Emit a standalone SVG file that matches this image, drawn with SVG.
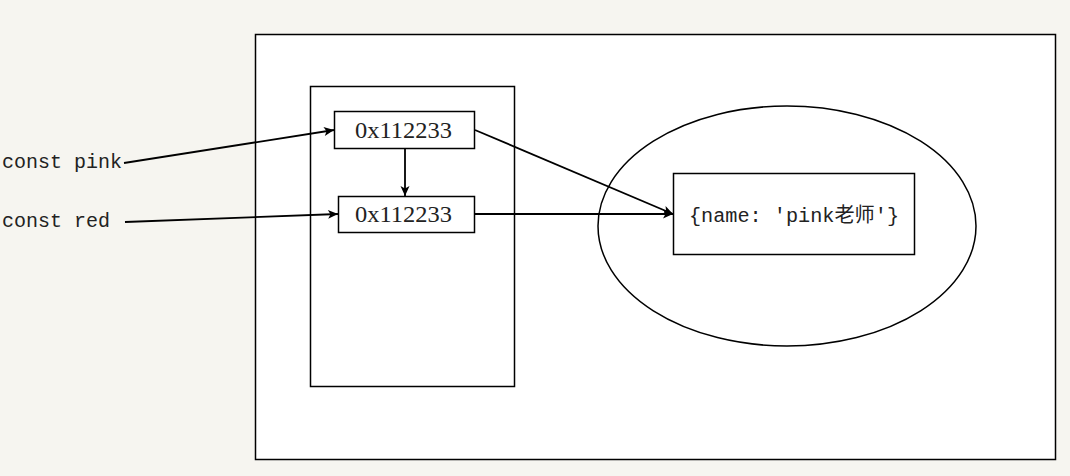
<svg xmlns="http://www.w3.org/2000/svg" width="1070" height="476" viewBox="0 0 1070 476">
<defs>
<style>
.box{fill:#fff;stroke:#000;stroke-width:1.5}
.ln{fill:none;stroke:#000;stroke-width:1.8}
.mono{font-family:"Liberation Mono","DejaVu Sans Mono",monospace;font-size:20px;fill:#222}
.ser{font-family:"Liberation Serif","Noto Sans CJK SC",serif;font-size:24px;fill:#222}
.obj{font-family:"Liberation Mono","Noto Sans CJK SC",monospace;font-size:20px;fill:#222}
</style>
<marker id="ah" viewBox="0 0 12 12" refX="11" refY="6" markerWidth="12" markerHeight="12" markerUnits="userSpaceOnUse" orient="auto">
<path d="M1,1.5 L11,6 L1,10.5 L3.5,6 Z" fill="#000"/>
</marker>
</defs>
<rect width="1070" height="476" fill="#f6f5f0"/>
<g id="heap-area"><rect class="box" x="255.5" y="34.5" width="800" height="425" stroke-width="2"/></g>
<g id="stack"><rect class="box" x="310.5" y="86.5" width="204" height="300"/></g>
<g id="heap"><ellipse cx="787" cy="226" rx="189" ry="120" fill="none" stroke="#000" stroke-width="1.5"/></g>
<g id="pink-addr"><rect class="box" x="334.5" y="111.5" width="140" height="37"/><text class="ser" x="355" y="138" textLength="97" lengthAdjust="spacingAndGlyphs">0x112233</text></g>
<g id="red-addr"><rect class="box" x="338.5" y="196.5" width="136" height="36"/><text class="ser" x="355" y="222" textLength="97" lengthAdjust="spacingAndGlyphs">0x112233</text></g>
<g id="object"><rect class="box" x="673.5" y="173.5" width="241" height="81"/><text class="obj" x="689" y="222" textLength="210" lengthAdjust="spacingAndGlyphs">{name: 'pink老师'}</text></g>
<g id="label-pink"><text class="mono" x="2" y="168">const pink</text></g>
<g id="label-red"><text class="mono" x="2" y="227">const red</text></g>
<g id="connectors">
<line class="ln" x1="124" y1="163" x2="334" y2="130" marker-end="url(#ah)"/>
<line class="ln" x1="125" y1="222" x2="338" y2="214" marker-end="url(#ah)"/>
<line class="ln" x1="405" y1="149" x2="405" y2="196" marker-end="url(#ah)"/>
<line class="ln" x1="475" y1="130" x2="673" y2="214" marker-end="url(#ah)"/>
<line class="ln" x1="475" y1="214" x2="673" y2="214" marker-end="url(#ah)"/>
</g>
</svg>
